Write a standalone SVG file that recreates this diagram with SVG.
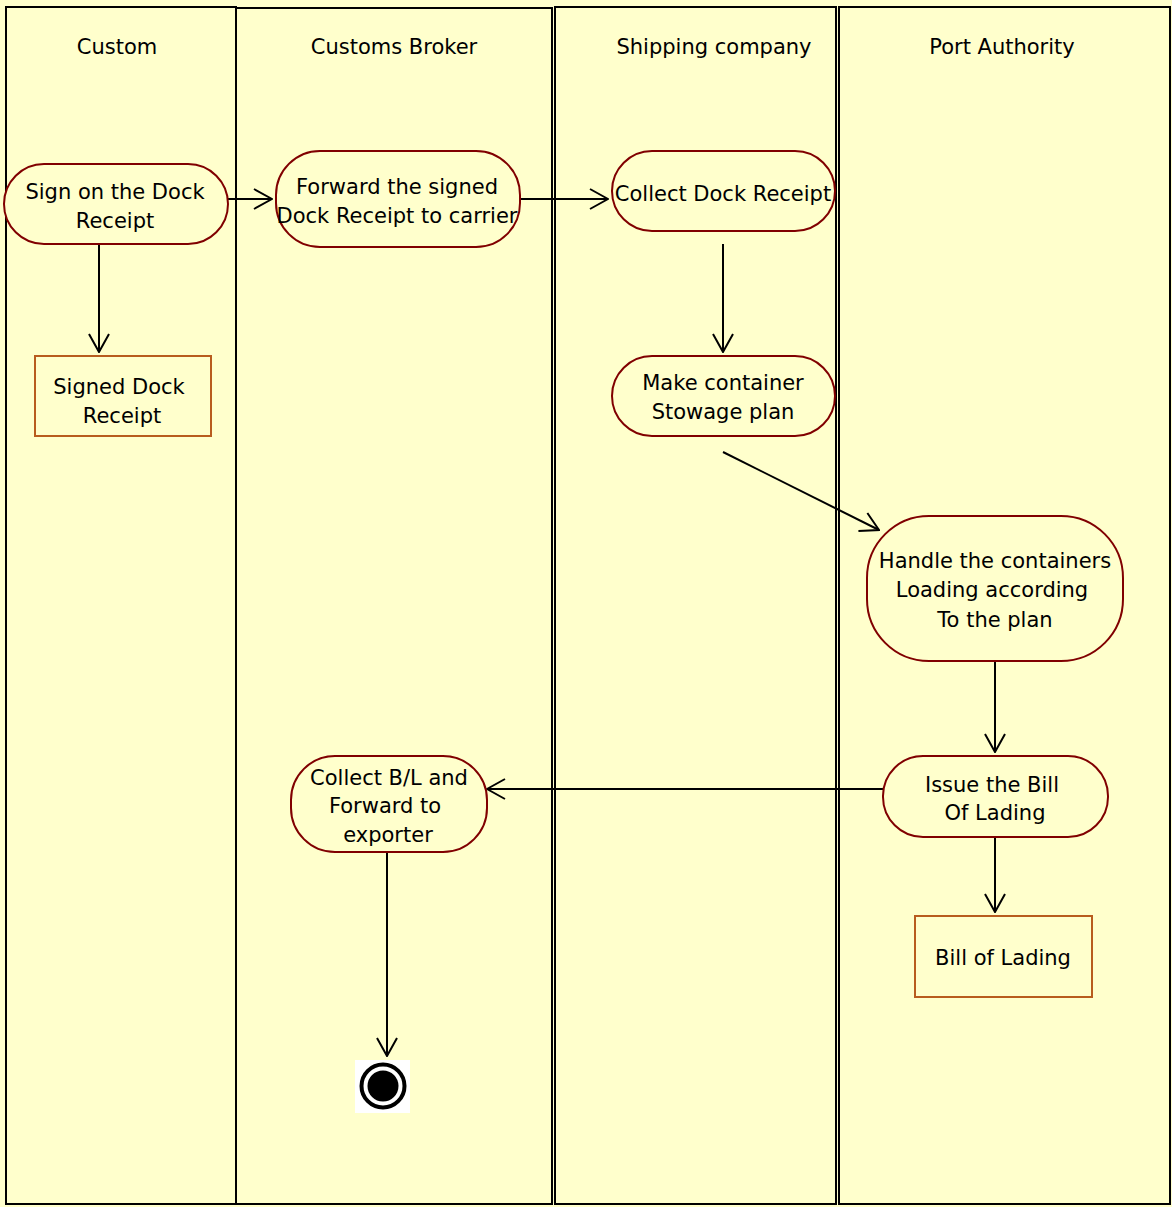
<svg xmlns="http://www.w3.org/2000/svg" width="1172" height="1207" viewBox="0 0 1172 1207">
<style>
text{font-family:"DejaVu Sans","Liberation Sans",sans-serif;font-size:21px;fill:#000;text-anchor:middle}
.lane{fill:#FFFFCC;stroke:#000;stroke-width:2}
.act{fill:#FFFFCC;stroke:#800000;stroke-width:2}
.obj{fill:#FFFFCC;stroke:#B85C1E;stroke-width:2}
.edge{fill:none;stroke:#000;stroke-width:2;marker-end:url(#arr)}
</style>
<defs>
<marker id="arr" viewBox="0 0 20 22" refX="19" refY="11" markerWidth="20" markerHeight="22" markerUnits="userSpaceOnUse" orient="auto">
<path d="M1,1 L19,11 L1,21" fill="none" stroke="#000" stroke-width="2"/>
</marker>
</defs>
<rect width="1172" height="1207" fill="#FFFFCC"/>
<g id="lanes">
<g id="lane-custom"><rect class="lane" x="6" y="7" width="230" height="1197"/><text x="117" y="54">Custom</text></g>
<g id="lane-broker"><rect class="lane" x="236" y="8" width="316" height="1196"/><text x="394" y="54">Customs Broker</text></g>
<g id="lane-shipping"><rect class="lane" x="555" y="7" width="281" height="1197"/><text x="714" y="54">Shipping company</text></g>
<g id="lane-port"><rect class="lane" x="839" y="7" width="331" height="1197"/><text x="1002" y="54">Port Authority</text></g>
</g>
<g id="connectors">
<line class="edge" x1="228" y1="199" x2="272" y2="199"/>
<line class="edge" x1="516" y1="199" x2="608" y2="199"/>
<line class="edge" x1="99" y1="244" x2="99" y2="352"/>
<line class="edge" x1="723" y1="244" x2="723" y2="352"/>
<line class="edge" x1="723" y1="452" x2="879" y2="530"/>
<line class="edge" x1="995" y1="661" x2="995" y2="752"/>
<line class="edge" x1="883" y1="789" x2="487" y2="789"/>
<line class="edge" x1="995" y1="837" x2="995" y2="912"/>
<line class="edge" x1="387" y1="852" x2="387" y2="1056"/>
</g>
<g id="sign">
<rect class="act" x="4" y="164" width="224" height="80" rx="40"/>
<text x="115" y="199">Sign on the Dock</text><text x="115" y="228">Receipt</text>
</g>
<g id="signed-dock-receipt">
<rect class="obj" x="35" y="356" width="176" height="80"/>
<text x="119" y="394">Signed Dock</text><text x="122" y="423">Receipt</text>
</g>
<g id="forward">
<rect class="act" x="276" y="151" width="244" height="96" rx="44"/>
<text x="397" y="194">Forward the signed</text><text x="397" y="223">Dock Receipt to carrier</text>
</g>
<g id="collect-dock">
<rect class="act" x="612" y="151" width="223" height="80" rx="40"/>
<text x="723" y="201">Collect Dock Receipt</text>
</g>
<g id="make-plan">
<rect class="act" x="612" y="356" width="223" height="80" rx="40"/>
<text x="723" y="390">Make container</text><text x="723" y="419">Stowage plan</text>
</g>
<g id="handle">
<rect class="act" x="867" y="516" width="256" height="145" rx="62"/>
<text x="995" y="568">Handle the containers</text><text x="992" y="597">Loading according</text><text x="995" y="627">To the plan</text>
</g>
<g id="issue">
<rect class="act" x="883" y="756" width="225" height="81" rx="40"/>
<text x="992" y="792">Issue the Bill</text><text x="995" y="820">Of Lading</text>
</g>
<g id="bill-of-lading">
<rect class="obj" x="915" y="916" width="177" height="81"/>
<text x="1003" y="965">Bill of Lading</text>
</g>
<g id="collect-bl">
<rect class="act" x="291" y="756" width="196" height="96" rx="44"/>
<text x="389" y="785">Collect B/L and</text><text x="385" y="813">Forward to</text><text x="388" y="842">exporter</text>
</g>
<g id="final">
<rect x="355" y="1060" width="55" height="53" fill="#fff"/>
<circle cx="383" cy="1086" r="21.5" fill="none" stroke="#000" stroke-width="4"/>
<circle cx="383" cy="1086" r="15.5" fill="#000"/>
</g>
</svg>
